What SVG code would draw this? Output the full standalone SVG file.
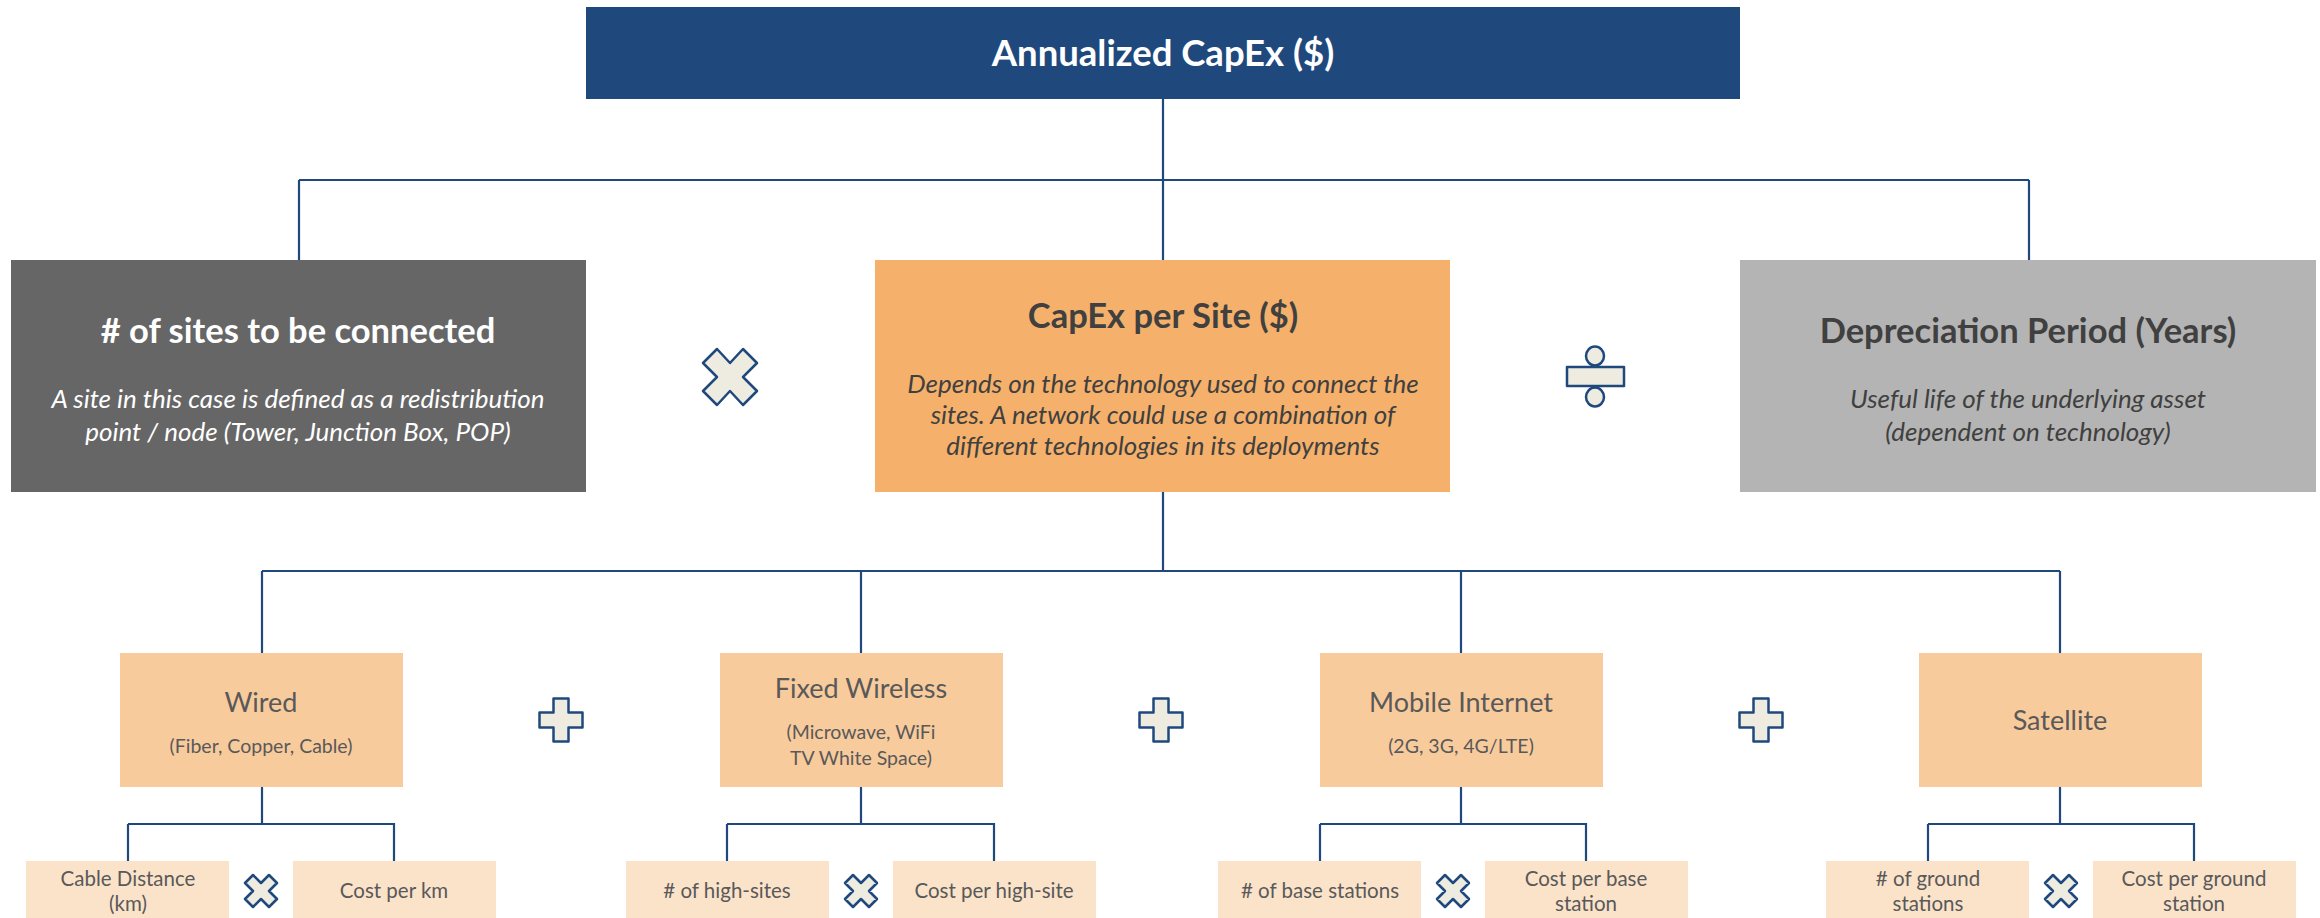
<svg xmlns="http://www.w3.org/2000/svg" width="2320" height="918" viewBox="0 0 2320 918">
<style>
text{font-family:"Lato","Liberation Sans",sans-serif;text-anchor:middle}
.conn{fill:none;stroke:#1F497D;stroke-width:2.2}
.op{fill:#EEECE1;stroke:#1F497D;stroke-width:2.5;stroke-linejoin:round}
.t1{font-size:36.5px;font-weight:bold;fill:#fff}
.t2{font-size:34.5px;font-weight:bold}
.s2{font-size:26px;font-style:italic}
.t3{font-size:27px;fill:#595959}
.s3{font-size:19.5px;fill:#595959}
.t4{font-size:20.5px;fill:#595959}
.b3{fill:#F8CB9D}
.b4{fill:#FBE3CA}
</style>
<defs>
<polygon id="mul" points="-27,-14 -13,-28 0,-14 13,-28 27,-14 13,0 27,14 13,28 0,14 -13,28 -27,14 -13,0"/>
<polygon id="mulS" points="-16,-8 -8,-16 0,-8 8,-16 16,-8 8,0 16,8 8,16 0,8 -8,16 -16,8 -8,0"/>
<polygon id="plus" points="-7.5,-21.5 7.5,-21.5 7.5,-7.5 21.5,-7.5 21.5,7.5 7.5,7.5 7.5,21.5 -7.5,21.5 -7.5,7.5 -21.5,7.5 -21.5,-7.5 -7.5,-7.5"/>
</defs>
<g id="connectors">
<path class="conn" d="M1163,99 V180 M299,180 H2029 M299,180 V260 M1163,180 V260 M2029,180 V260"/>
<path class="conn" d="M1163,492 V571 M262,571 H2060 M262,571 V653 M861,571 V653 M1461,571 V653 M2060,571 V653"/>
<path class="conn" d="M262,787 V824 M128,824 H394 V861 M128,824 V861"/>
<path class="conn" d="M861,787 V824 M727,824 H994 V861 M727,824 V861"/>
<path class="conn" d="M1461,787 V824 M1320,824 H1586 V861 M1320,824 V861"/>
<path class="conn" d="M2060,787 V824 M1928,824 H2194 V861 M1928,824 V861"/>
</g>
<g id="annualized-capex">
<rect x="586" y="7" width="1154" height="92" fill="#1F497D"/>
<text class="t1" x="1163" y="66">Annualized CapEx ($)</text>
</g>
<g id="sites">
<rect x="11" y="260" width="575" height="232" fill="#666666"/>
<text class="t2" x="298" y="343" fill="#fff">#&#160;of sites to be connected</text>
<text class="s2" x="298" y="408" fill="#fff">A site in this case is defined as a redistribution</text>
<text class="s2" x="298" y="441" fill="#fff">point / node (Tower, Junction Box, POP)</text>
</g>
<g id="capex-per-site">
<rect x="875" y="260" width="575" height="232" fill="#F5B06B"/>
<text class="t2" x="1163" y="328" fill="#404040">CapEx per Site ($)</text>
<text class="s2" x="1163" y="393" fill="#404040">Depends on the technology used to connect the</text>
<text class="s2" x="1163" y="424" fill="#404040">sites. A network could use a combination of</text>
<text class="s2" x="1163" y="455" fill="#404040">different technologies in its deployments</text>
</g>
<g id="depreciation">
<rect x="1740" y="260" width="576" height="232" fill="#B4B4B4"/>
<text class="t2" x="2028" y="343" fill="#404040">Depreciation Period (Years)</text>
<text class="s2" x="2028" y="408" fill="#404040">Useful life of the underlying asset</text>
<text class="s2" x="2028" y="441" fill="#404040">(dependent on technology)</text>
</g>
<g id="op-multiply">
<use href="#mul" class="op" x="730" y="377"/>
</g>
<g id="op-divide">
<ellipse class="op" cx="1595" cy="356" rx="9" ry="9.5"/>
<rect class="op" x="1567" y="367" width="57" height="19"/>
<ellipse class="op" cx="1595" cy="397" rx="9" ry="9.5"/>
</g>
<g id="wired">
<rect class="b3" x="120" y="653" width="283" height="134"/>
<text class="t3" x="261" y="712">Wired</text>
<text class="s3" x="261" y="753">(Fiber, Copper, Cable)</text>
</g>
<g id="fixed-wireless">
<rect class="b3" x="720" y="653" width="283" height="134"/>
<text class="t3" x="861" y="698">Fixed Wireless</text>
<text class="s3" x="861" y="739">(Microwave, WiFi</text>
<text class="s3" x="861" y="765">TV White Space)</text>
</g>
<g id="mobile-internet">
<rect class="b3" x="1320" y="653" width="283" height="134"/>
<text class="t3" x="1461" y="712">Mobile Internet</text>
<text class="s3" x="1461" y="753">(2G, 3G, 4G/LTE)</text>
</g>
<g id="satellite">
<rect class="b3" x="1919" y="653" width="283" height="134"/>
<text class="t3" x="2060" y="730">Satellite</text>
</g>
<g id="op-plus-1"><use href="#plus" class="op" x="561" y="720"/></g>
<g id="op-plus-2"><use href="#plus" class="op" x="1161" y="720"/></g>
<g id="op-plus-3"><use href="#plus" class="op" x="1761" y="720"/></g>
<g id="cable-distance">
<rect class="b4" x="26" y="861" width="203" height="60"/>
<text class="t4" x="128" y="886">Cable Distance</text>
<text class="t4" x="128" y="911">(km)</text>
</g>
<g id="cost-per-km">
<rect class="b4" x="293" y="861" width="203" height="60"/>
<text class="t4" x="394" y="898">Cost per km</text>
</g>
<g id="high-sites">
<rect class="b4" x="626" y="861" width="203" height="60"/>
<text class="t4" x="727" y="898">#&#160;of high-sites</text>
</g>
<g id="cost-per-high-site">
<rect class="b4" x="893" y="861" width="203" height="60"/>
<text class="t4" x="994" y="898">Cost per high-site</text>
</g>
<g id="base-stations">
<rect class="b4" x="1218" y="861" width="203" height="60"/>
<text class="t4" x="1320" y="898">#&#160;of base stations</text>
</g>
<g id="cost-per-base-station">
<rect class="b4" x="1485" y="861" width="203" height="60"/>
<text class="t4" x="1586" y="886">Cost per base</text>
<text class="t4" x="1586" y="911">station</text>
</g>
<g id="ground-stations">
<rect class="b4" x="1826" y="861" width="203" height="60"/>
<text class="t4" x="1928" y="886">#&#160;of ground</text>
<text class="t4" x="1928" y="911">stations</text>
</g>
<g id="cost-per-ground-station">
<rect class="b4" x="2093" y="861" width="203" height="60"/>
<text class="t4" x="2194" y="886">Cost per ground</text>
<text class="t4" x="2194" y="911">station</text>
</g>
<g id="op-mul-1"><use href="#mulS" class="op" x="261" y="891"/></g>
<g id="op-mul-2"><use href="#mulS" class="op" x="861" y="891"/></g>
<g id="op-mul-3"><use href="#mulS" class="op" x="1453" y="891"/></g>
<g id="op-mul-4"><use href="#mulS" class="op" x="2061" y="891"/></g>
</svg>
